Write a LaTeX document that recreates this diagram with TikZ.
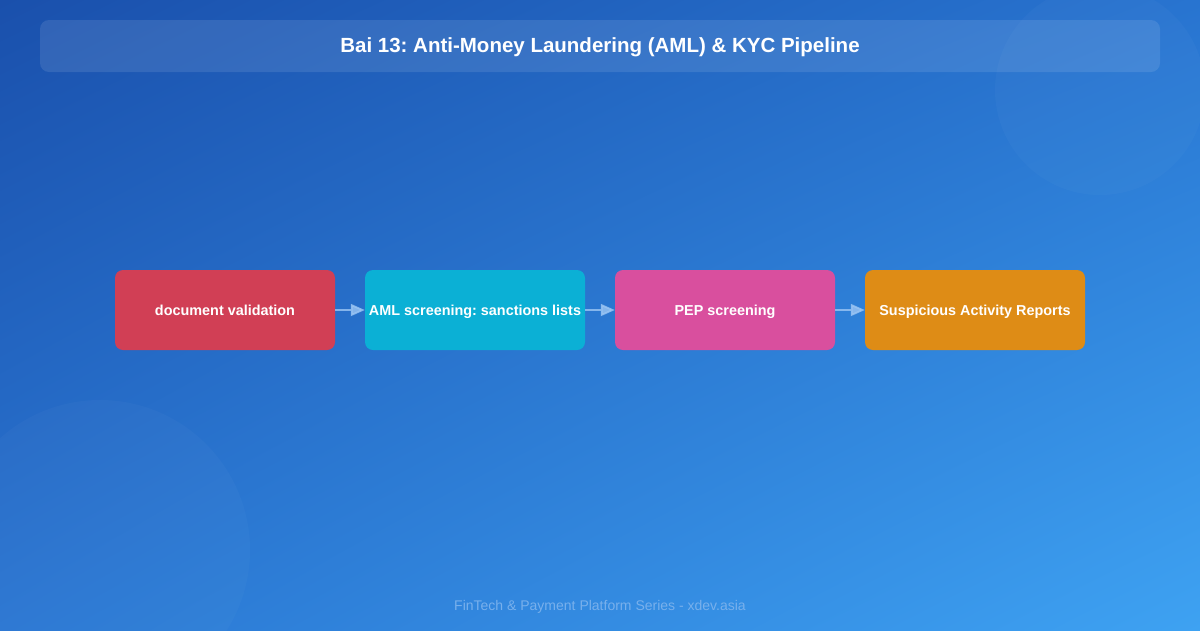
\documentclass[tikz,border=0pt]{standalone}
\usepackage{fontspec}
\setmainfont{Liberation Sans}
\usetikzlibrary{arrows.meta,shadings}
\definecolor{bgTL}{HTML}{1A50AC}
\definecolor{bgTR}{HTML}{2874D0}
\definecolor{bgBL}{HTML}{2A76D2}
\definecolor{bgBR}{HTML}{3EA2F2}
\definecolor{cRed}{HTML}{D13F55}
\definecolor{cCyan}{HTML}{0BB0D5}
\definecolor{cPink}{HTML}{D94F9E}
\definecolor{cOrange}{HTML}{DE8C16}
\definecolor{cArrow}{HTML}{9CC6F4}
\definecolor{cFoot}{HTML}{78B0EC}
\tikzset{
  stepbox/.style={draw=none, rounded corners=8pt, minimum width=220pt, minimum height=80pt,
    text=white, font=\bfseries\fontsize{14.4}{16}\selectfont, inner sep=0pt,
    text height=14.5pt, text depth=3pt},
  flow/.style={draw=cArrow, draw opacity=0.8, fill opacity=0.8, line width=1.8pt,
    -{Triangle[length=14pt,width=12pt]}}
}
\begin{document}
\frenchspacing
\begin{tikzpicture}[x=1pt,y=-1pt]
\useasboundingbox (0,0) rectangle (1200,630);
\shade[upper left=bgTL, upper right=bgTR, lower left=bgBL, lower right=bgBR] (0,0) rectangle (1200,630);
\begin{scope}
\clip (0,0) rectangle (1200,630);
\fill[white, opacity=0.025] (1100,90) circle (105);
\fill[white, opacity=0.025] (100,550) circle (150);
\end{scope}
\fill[white, opacity=0.1, rounded corners=9pt] (40,20) rectangle (1160,72);
\node[text=white, font=\bfseries\fontsize{20.5}{22}\selectfont, text height=18.5pt, text depth=4pt] (title) at (600,45) {Bai 13: Anti-Money Laundering (AML) \& KYC Pipeline};
\node[stepbox, fill=cRed] (s1) at (225,310) {document validation};
\node[stepbox, fill=cCyan] (s2) at (475,310) {AML screening: sanctions lists};
\node[stepbox, fill=cPink] (s3) at (725,310) {PEP screening};
\node[stepbox, fill=cOrange] (s4) at (975,310) {Suspicious Activity Reports};
\draw[flow] (s1) -- (s2);
\draw[flow] (s2) -- (s3);
\draw[flow] (s3) -- (s4);
\node[text=cFoot, font=\fontsize{14}{16}\selectfont, text height=14pt, text depth=3pt] (foot) at (600,605) {FinTech \& Payment Platform Series - xdev.asia};
\end{tikzpicture}
\end{document}
